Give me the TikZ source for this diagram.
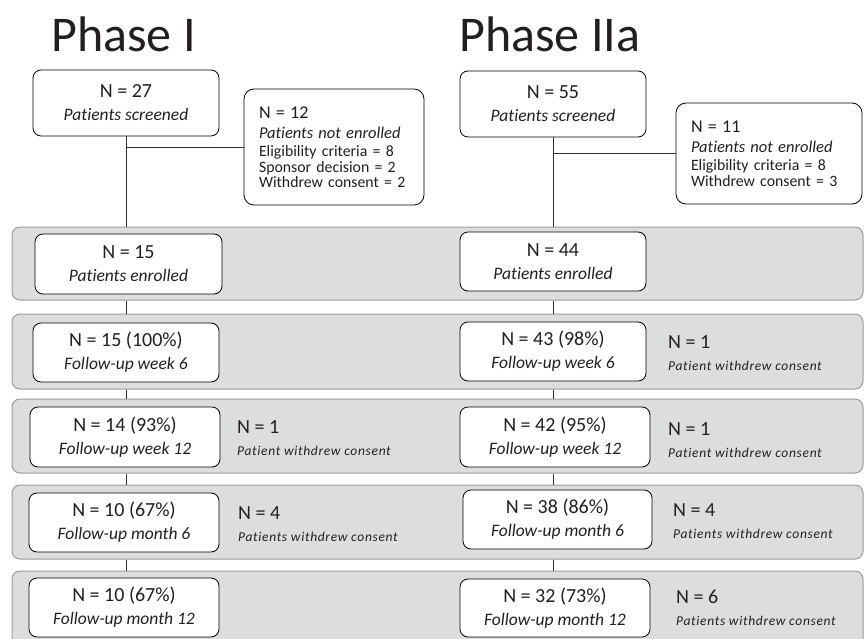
\documentclass[tikz,border=0pt]{standalone}
\usepackage{fontspec}
\setmainfont{Carlito}[Ligatures=NoCommon]

\definecolor{bandgrau}{RGB}{220,221,223}
\definecolor{randgrau}{RGB}{155,155,155}
\definecolor{schrift}{RGB}{35,31,32}

\newcommand{\kursivzeile}{\fontsize{17.5}{21}\selectfont\itshape}
\newcommand{\infokursiv}{\fontsize{16.5}{20}\selectfont\itshape}
\newcommand{\kleinzeile}{\fontsize{13.5}{21}\selectfont\itshape\addfontfeatures{LetterSpace=5}}

\tikzset{
    kasten/.style={draw=black, line width=0.8pt, fill=white, rounded corners=8pt,
        align=center, minimum width=186pt, minimum height=59pt, inner sep=0pt,
        text=schrift, font=\fontsize{20}{23}\selectfont},
    infokasten/.style={draw=black, line width=0.8pt, fill=white, rounded corners=10pt,
        align=left, inner ysep=0pt, text=schrift, font=\fontsize{15.8}{15.5}\selectfont},
    band/.style={draw=randgrau, line width=1pt, fill=bandgrau, rounded corners=8pt,
        minimum width=851pt, inner sep=0pt},
    ausfall/.style={anchor=west, align=left, inner sep=0pt, text=schrift,
        font=\fontsize{20}{22}\selectfont},
    linie/.style={draw=black!80, line width=0.9pt}
}

\begin{document}
\begin{tikzpicture}[x=1pt, y=-1pt]
    \useasboundingbox (0, 0) rectangle (864, 639);

    % Baender
    \node[band, minimum height=73pt] (b1) at (437.5, 263.5) {};
    \node[band, minimum height=75pt] (b2) at (437.5, 351.5) {};
    \node[band, minimum height=74pt] (b3) at (437.5, 436) {};
    \node[band, minimum height=74pt] (b4) at (437.5, 522) {};
    \node[band, minimum height=89pt] (b5) at (437.5, 615.5) {};

    % Ueberschriften
    \node[anchor=base west, inner sep=0pt, text=schrift, font=\fontsize{50}{60}\selectfont] (tI) at (51, 52) {Phase I};
    \node[anchor=base west, inner sep=0pt, text=schrift, font=\fontsize{50}{60}\selectfont] (tII) at (459, 52) {Phase IIa};

    % Phase I
    \node[kasten, minimum height=66pt] (sI) at (126, 103) {N = 27\\{\kursivzeile Patients screened}};
    \node[infokasten, text width=150pt, inner xsep=15pt, minimum height=116pt] (nI) at (334, 147)
        {{\fontsize{18}{22}\selectfont N = 12}\\[5pt]{\infokursiv Patients not enrolled}\\[2.5pt]Eligibility criteria = 8\\Sponsor decision = 2\\Withdrew consent = 2};
    \node[kasten, minimum width=187pt, minimum height=60pt] (eI) at (128.5, 264) {N = 15\\{\kursivzeile Patients enrolled}};
    \node[kasten] (f6I) at (126, 352.5) {N = 15 (100\%)\\{\kursivzeile Follow-up week 6}};
    \node[kasten, minimum width=190pt, minimum height=60pt] (f12I) at (125, 437) {N = 14 (93\%)\\{\kursivzeile Follow-up week 12}};
    \node[kasten, minimum width=190pt] (m6I) at (124, 522.5) {N = 10 (67\%)\\{\kursivzeile Follow-up month 6}};
    \node[kasten, minimum width=190pt] (m12I) at (124, 607.5) {N = 10 (67\%)\\{\kursivzeile Follow-up month 12}};

    \node[ausfall] (af12I) at (237, 438.5) {N = 1\\{\kleinzeile Patient withdrew consent}};
    \node[ausfall] (am6I) at (238, 524) {N = 4\\{\kleinzeile Patients withdrew consent}};

    % Phase IIa
    \node[kasten, minimum height=66pt] (sII) at (553, 104) {N = 55\\{\kursivzeile Patients screened}};
    \node[infokasten, text width=156pt, inner xsep=15pt, minimum height=101pt] (nII) at (769, 153.5)
        {{\fontsize{18}{22}\selectfont N = 11}\\[5pt]{\infokursiv Patients not enrolled}\\[2.5pt]Eligibility criteria = 8\\Withdrew consent = 3};
    \node[kasten] (eII) at (553, 261.5) {N = 44\\{\kursivzeile Patients enrolled}};
    \node[kasten] (f6II) at (553, 351.5) {N = 43 (98\%)\\{\kursivzeile Follow-up week 6}};
    \node[kasten, minimum width=190pt, minimum height=60pt] (f12II) at (555, 437) {N = 42 (95\%)\\{\kursivzeile Follow-up week 12}};
    \node[kasten, minimum width=189pt] (m6II) at (557.5, 519.5) {N = 38 (86\%)\\{\kursivzeile Follow-up month 6}};
    \node[kasten, minimum width=190pt, minimum height=58pt] (m12II) at (555, 608) {N = 32 (73\%)\\{\kursivzeile Follow-up month 12}};

    \node[ausfall] (af6II) at (668, 353.5) {N = 1\\{\kleinzeile Patient withdrew consent}};
    \node[ausfall] (af12II) at (668, 440) {N = 1\\{\kleinzeile Patient withdrew consent}};
    \node[ausfall] (am6II) at (673, 521.5) {N = 4\\{\kleinzeile Patients withdrew consent}};
    \node[ausfall] (am12II) at (676, 608) {N = 6\\{\kleinzeile Patients withdrew consent}};

    % Verbindungen
    \draw[linie] (sI.south) -- (sI.south |- b1.north);
    \draw[linie] (nI.west) -- (nI.west -| sI.south);
    \draw[linie] (b1.south -| sI.south) -- (b2.north -| sI.south);
    \draw[linie] (b2.south -| sI.south) -- (b3.north -| sI.south);
    \draw[linie] (b3.south -| sI.south) -- (b4.north -| sI.south);
    \draw[linie] (b4.south -| sI.south) -- (b5.north -| sI.south);

    \draw[linie] (sII.south) -- (sII.south |- b1.north);
    \draw[linie] (nII.west) -- (nII.west -| sII.south);
    \draw[linie] (b1.south -| sII.south) -- (b2.north -| sII.south);
    \draw[linie] (b2.south -| sII.south) -- (b3.north -| sII.south);
    \draw[linie] (b3.south -| sII.south) -- (b4.north -| sII.south);
    \draw[linie] (b4.south -| sII.south) -- (b5.north -| sII.south);
\end{tikzpicture}
\end{document}
